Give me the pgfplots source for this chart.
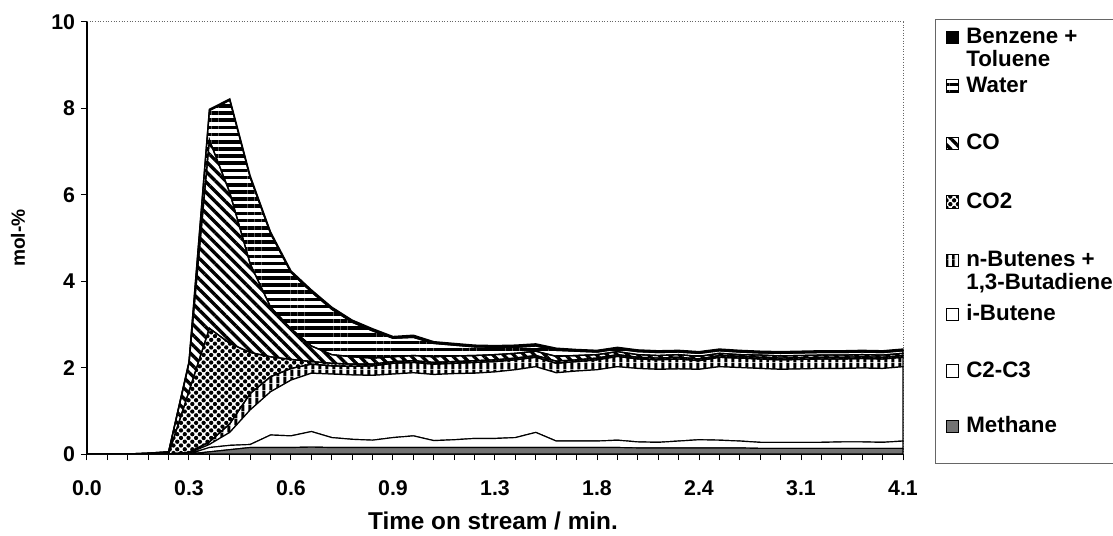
\documentclass[border=0pt]{standalone}
\usepackage{fontspec}
\setmainfont{Liberation Sans}
\usepackage{pgfplots}
\pgfplotsset{compat=1.18}
\usepackage{pgfplotstable}
\usetikzlibrary{patterns.meta}

\pgfplotstableread{
x M C iB nB CO2 CO W Bz
0 0 0 0 0 0 0 0 0
1 0 0 0 0 0 0 0 0
2 0 0 0 0 0 0 0 0
3 0 0 0 0 0 0.02 0 0
4 0 0 0 0 0 0.05 0 0
5 0 0 0.02 0.02 1.41 0.65 0.02 0.02
6 0.05 0.10 0.07 0.06 2.63 4.36 0.68 0.03
7 0.10 0.10 0.30 0.20 1.86 3.49 2.14 0.03
8 0.15 0.07 0.80 0.38 0.95 2.05 2.00 0.04
9 0.15 0.29 1.00 0.35 0.46 1.15 1.70 0.04
10 0.15 0.27 1.29 0.27 0.21 0.71 1.30 0.04
11 0.16 0.36 1.35 0.21 0.06 0.36 1.25 0.05
12 0.15 0.23 1.47 0.19 0.06 0.20 1.05 0.05
13 0.15 0.19 1.49 0.20 0.05 0.17 0.80 0.05
14 0.15 0.17 1.50 0.22 0.04 0.14 0.63 0.05
15 0.15 0.23 1.47 0.25 0.04 0.11 0.43 0.04
16 0.15 0.27 1.46 0.24 0.04 0.12 0.42 0.05
17 0.15 0.16 1.53 0.24 0.04 0.13 0.31 0.04
18 0.15 0.18 1.53 0.24 0.04 0.13 0.25 0.04
19 0.15 0.21 1.51 0.25 0.04 0.12 0.20 0.04
20 0.15 0.21 1.54 0.24 0.04 0.12 0.17 0.04
21 0.15 0.23 1.57 0.23 0.04 0.11 0.14 0.05
22 0.15 0.35 1.52 0.22 0.04 0.10 0.12 0.05
23 0.15 0.15 1.58 0.22 0.05 0.11 0.14 0.05
24 0.15 0.15 1.62 0.22 0.04 0.10 0.10 0.04
25 0.15 0.15 1.65 0.23 0.04 0.08 0.06 0.04
26 0.15 0.17 1.70 0.24 0.04 0.07 0.06 0.04
27 0.14 0.14 1.70 0.22 0.04 0.06 0.07 0.04
28 0.14 0.13 1.69 0.22 0.04 0.06 0.07 0.04
29 0.14 0.16 1.67 0.23 0.04 0.06 0.06 0.04
30 0.14 0.19 1.63 0.20 0.04 0.06 0.07 0.04
31 0.14 0.18 1.70 0.22 0.04 0.05 0.06 0.04
32 0.14 0.16 1.70 0.22 0.04 0.04 0.06 0.04
33 0.13 0.14 1.71 0.22 0.04 0.05 0.05 0.04
34 0.13 0.14 1.69 0.22 0.04 0.05 0.06 0.04
35 0.13 0.14 1.70 0.22 0.04 0.05 0.06 0.04
36 0.13 0.14 1.71 0.22 0.04 0.05 0.06 0.04
37 0.13 0.15 1.70 0.22 0.04 0.05 0.06 0.04
38 0.13 0.15 1.71 0.22 0.04 0.05 0.06 0.04
39 0.13 0.14 1.71 0.22 0.04 0.05 0.06 0.04
40 0.13 0.17 1.72 0.22 0.04 0.05 0.06 0.04
}\data

\tikzset{
  pWater/.style={pattern={Lines[angle=0,distance=4.3pt,line width=2.2pt]}},
  pCO/.style={pattern={Lines[angle=-45,distance=4.4pt,line width=2.0pt]}},
  pCOtwo/.style={pattern={Dots[angle=45,distance=3.2pt,radius=1.3pt]}},
  pnBut/.style={pattern={Lines[angle=90,distance=4pt,line width=1.9pt]}},
  pMeth/.style={fill=black!55},
}

\begin{document}
\begin{tikzpicture}[font=\bfseries\fontsize{13.4}{15}\selectfont]
\begin{axis}[
  at={(0pt,0pt)}, anchor=south west,
  scale only axis, width=489.6pt, height=259.2pt,
  xmin=0, xmax=40, ymin=0, ymax=10,
  axis x line*=bottom, axis y line*=left,
  axis line style={black, line width=0.7pt, -},
  stack plots=y,
  xtick={0,5,...,40},
  xticklabels={0.0,0.3,0.6,0.9,1.3,1.8,2.4,3.1,4.1},
  minor xtick={0,...,40},
  ytick={0,2,...,10},
  tick align=outside, major tick length=3.6pt, minor tick length=3.6pt,
  tick style={black, line width=0.6pt},
  /pgf/number format/assume math mode=true,
  ticklabel style={font=\bfseries\fontsize{12.8}{14}\selectfont},
  xticklabel shift=11.5pt,
  xticklabel style={anchor=north, text height=9.3pt, text depth=0pt, inner sep=0pt},
  xlabel={Time on stream / min.}, ylabel={mol-\%},
  xlabel style={at={(axis description cs:0.4975,-0.155)}, anchor=center, font=\bfseries\fontsize{14.6}{16}\selectfont},
  ylabel style={at={(axis description cs:-0.0846,0.5)}, anchor=center, font=\bfseries\fontsize{11.5}{13}\selectfont},
  clip=false,
]
\addplot[draw=black, line width=0.7pt, pMeth] table[x=x,y=M]{\data} \closedcycle;
\addplot[draw=black, line width=0.7pt, fill=white] table[x=x,y=C]{\data} \closedcycle;
\addplot[draw=black, line width=0.7pt, fill=white] table[x=x,y=iB]{\data} \closedcycle;
\addplot[draw=black, line width=0.8pt, pnBut] table[x=x,y=nB]{\data} \closedcycle;
\addplot[draw=black, line width=0.8pt, pCOtwo] table[x=x,y=CO2]{\data} \closedcycle;
\addplot[draw=black, line width=0.8pt, pCO] table[x=x,y=CO]{\data} \closedcycle;
\addplot[draw=black, line width=0.8pt, pWater] table[x=x,y=W]{\data} \closedcycle;
\addplot[draw=black, line width=0.8pt, fill=black] table[x=x,y=Bz]{\data} \closedcycle;
\draw[black!60, densely dotted, line width=0.6pt] (rel axis cs:0,1) -- (rel axis cs:1,1) -- (rel axis cs:1,0);
\end{axis}
% legend
\draw[black!60, line width=0.6pt] (625pt,260.4pt) -- (508.8pt,260.4pt) -- (508.8pt,-6pt) -- (625pt,-6pt);
\begin{scope}[every node/.style={anchor=base west, inner sep=0pt}]
\node at (527.4pt,246.0pt) {Benzene +};
\node at (527.4pt,232.4pt) {Toluene};
\node at (527.4pt,217.0pt) {Water};
\node at (527.4pt,182.4pt) {CO};
\node at (527.4pt,147.4pt) {CO2};
\node at (527.4pt,112.4pt) {n-Butenes +};
\node at (527.4pt,98.4pt) {1,3-Butadiene};
\node at (527.4pt,79.8pt) {i-Butene};
\node at (527.4pt,46.0pt) {C2-C3};
\node at (527.4pt,12.8pt) {Methane};
\end{scope}
\begin{scope}[line width=0.6pt]
\draw[fill=black] (515.4pt,246.0pt) rectangle ++(7.4pt,7.4pt);
\draw[pWater] (515.4pt,217.0pt) rectangle ++(7.4pt,7.4pt);
\draw[pCO] (515.4pt,182.4pt) rectangle ++(7.4pt,7.4pt);
\draw[pCOtwo] (515.4pt,147.4pt) rectangle ++(7.4pt,7.4pt);
\draw[pnBut] (515.4pt,112.4pt) rectangle ++(7.4pt,7.4pt);
\draw[fill=white] (515.4pt,79.8pt) rectangle ++(7.4pt,7.4pt);
\draw[fill=white] (515.4pt,46.0pt) rectangle ++(7.4pt,7.4pt);
\draw[pMeth] (515.4pt,12.8pt) rectangle ++(7.4pt,7.4pt);
\end{scope}
\pgfresetboundingbox
\path[use as bounding box] (-52.2pt,-49.2pt) rectangle (615.6pt,272.4pt);
\end{tikzpicture}
\end{document}
